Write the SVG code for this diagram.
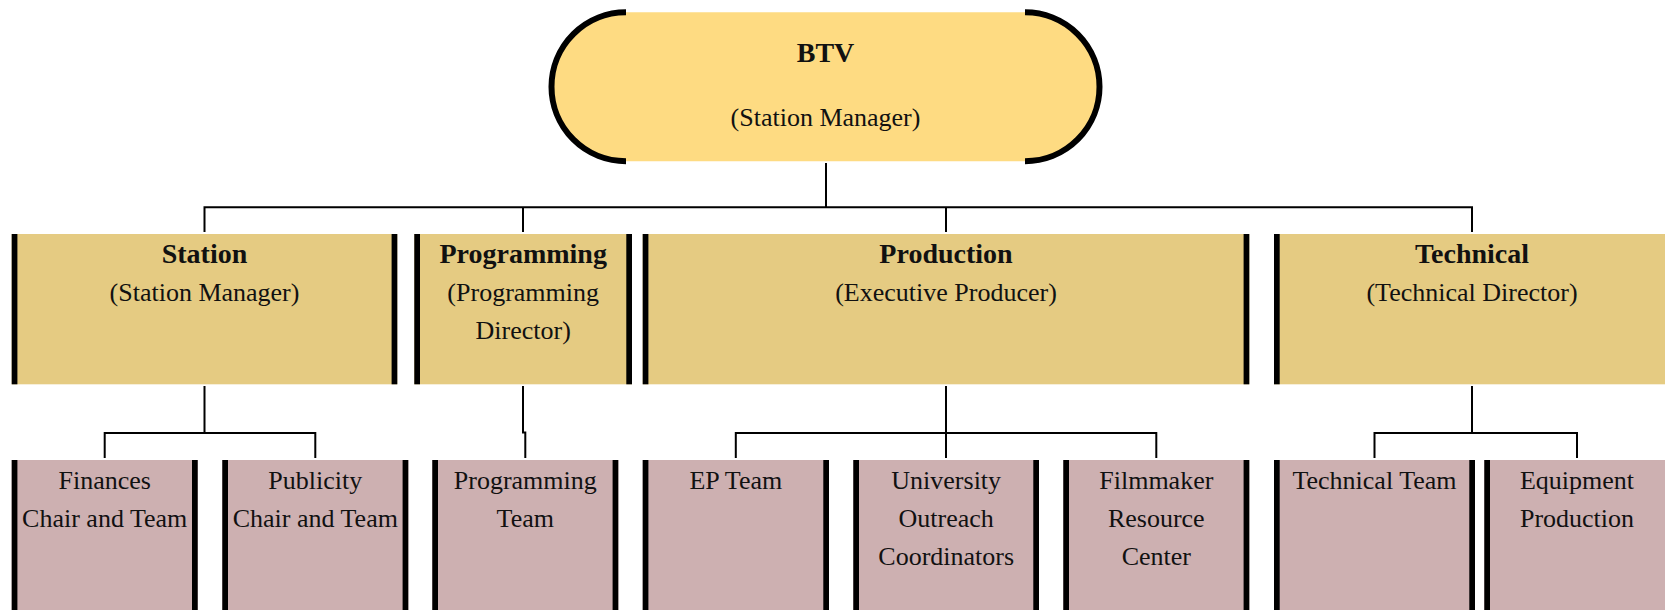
<svg xmlns="http://www.w3.org/2000/svg" width="1665" height="610" viewBox="0 0 1665 610">
<style>
.t{font-family:"Liberation Serif","Times New Roman",serif;font-size:26px;fill:#111;text-anchor:middle}
.b{font-weight:bold;font-size:28px}
.l2{fill:#E5CB82}
.l3{fill:#CDB0B1}
.bar{fill:#000}
.c{fill:none;stroke:#000;stroke-width:2}
</style>
<rect width="1665" height="610" fill="#fff"/>
<g id="connectors">
<path class="c" d="M826 163V207.3"/>
<path class="c" d="M204.5 232V207.3H1472V232"/>
<path class="c" d="M523 207.3V232M946 207.3V232"/>
<path class="c" d="M204.5 386V433M104.7 458V433H315.3V458"/>
<path class="c" d="M523 386V432.5H525.3V458"/>
<path class="c" d="M946 386V458M735.8 458V433H1156.3V458"/>
<path class="c" d="M1472 386V433M1374.5 458V433H1577V458"/>
</g>
<g id="btv">
<path d="M626 12.3H1025A74.5 74.5 0 0 1 1025 161.3H626A74.5 74.5 0 0 1 626 12.3Z" fill="#FEDB82"/>
<path d="M626 12.3A74.5 74.5 0 0 0 626 161.3" fill="none" stroke="#000" stroke-width="6"/>
<path d="M1025 12.3A74.5 74.5 0 0 1 1025 161.3" fill="none" stroke="#000" stroke-width="6"/>
<text class="t b" x="825.5" y="62">BTV</text>
<text class="t" x="825.5" y="126">(Station Manager)</text>
</g>
<g id="station">
<rect class="l2" x="11.7" y="234" width="385.6" height="150.3"/>
<rect class="bar" x="11.7" y="234" width="5.7" height="150.3"/>
<rect class="bar" x="391.6" y="234" width="5.7" height="150.3"/>
<text class="t b" x="204.5" y="262.5">Station</text>
<text class="t" x="204.5" y="301">(Station Manager)</text>
</g>
<g id="programming">
<rect class="l2" x="414.3" y="234" width="217.7" height="150.3"/>
<rect class="bar" x="414.3" y="234" width="5.7" height="150.3"/>
<rect class="bar" x="626.3" y="234" width="5.7" height="150.3"/>
<text class="t b" x="523.2" y="262.5">Programming</text>
<text class="t" x="523.2" y="301">(Programming</text>
<text class="t" x="523.2" y="339.3">Director)</text>
</g>
<g id="production">
<rect class="l2" x="642.7" y="234" width="606.6" height="150.3"/>
<rect class="bar" x="642.7" y="234" width="5.7" height="150.3"/>
<rect class="bar" x="1243.6" y="234" width="5.7" height="150.3"/>
<text class="t b" x="946" y="262.5">Production</text>
<text class="t" x="946" y="301">(Executive Producer)</text>
</g>
<g id="technical">
<rect class="l2" x="1274" y="234" width="396" height="150.3"/>
<rect class="bar" x="1274" y="234" width="5.7" height="150.3"/>
<text class="t b" x="1472" y="262.5">Technical</text>
<text class="t" x="1472" y="301">(Technical Director)</text>
</g>
<g id="finances">
<rect class="l3" x="11.7" y="460" width="186" height="150"/>
<rect class="bar" x="11.7" y="460" width="5.7" height="150"/>
<rect class="bar" x="192" y="460" width="5.7" height="150"/>
<text class="t" x="104.7" y="489.3">Finances</text>
<text class="t" x="104.7" y="526.7">Chair and Team</text>
</g>
<g id="publicity">
<rect class="l3" x="222.3" y="460" width="186" height="150"/>
<rect class="bar" x="222.3" y="460" width="5.7" height="150"/>
<rect class="bar" x="402.6" y="460" width="5.7" height="150"/>
<text class="t" x="315.3" y="489.3">Publicity</text>
<text class="t" x="315.3" y="526.7">Chair and Team</text>
</g>
<g id="programming-team">
<rect class="l3" x="432.3" y="460" width="186" height="150"/>
<rect class="bar" x="432.3" y="460" width="5.7" height="150"/>
<rect class="bar" x="612.6" y="460" width="5.7" height="150"/>
<text class="t" x="525.3" y="489.3">Programming</text>
<text class="t" x="525.3" y="526.7">Team</text>
</g>
<g id="ep-team">
<rect class="l3" x="642.7" y="460" width="186.3" height="150"/>
<rect class="bar" x="642.7" y="460" width="5.7" height="150"/>
<rect class="bar" x="823.3" y="460" width="5.7" height="150"/>
<text class="t" x="735.8" y="489.3">EP Team</text>
</g>
<g id="university">
<rect class="l3" x="853.3" y="460" width="185.7" height="150"/>
<rect class="bar" x="853.3" y="460" width="5.7" height="150"/>
<rect class="bar" x="1033.3" y="460" width="5.7" height="150"/>
<text class="t" x="946.2" y="489.3">University</text>
<text class="t" x="946.2" y="526.7">Outreach</text>
<text class="t" x="946.2" y="564.5">Coordinators</text>
</g>
<g id="filmmaker">
<rect class="l3" x="1063.3" y="460" width="186" height="150"/>
<rect class="bar" x="1063.3" y="460" width="5.7" height="150"/>
<rect class="bar" x="1243.6" y="460" width="5.7" height="150"/>
<text class="t" x="1156.3" y="489.3">Filmmaker</text>
<text class="t" x="1156.3" y="526.7">Resource</text>
<text class="t" x="1156.3" y="564.5">Center</text>
</g>
<g id="technical-team">
<rect class="l3" x="1274" y="460" width="201" height="150"/>
<rect class="bar" x="1274" y="460" width="5.7" height="150"/>
<rect class="bar" x="1469.3" y="460" width="5.7" height="150"/>
<text class="t" x="1374.5" y="489.3">Technical Team</text>
</g>
<g id="equipment">
<rect class="l3" x="1484.3" y="460" width="186" height="150"/>
<rect class="bar" x="1484.3" y="460" width="5.7" height="150"/>
<text class="t" x="1577" y="489.3">Equipment</text>
<text class="t" x="1577" y="526.7">Production</text>
</g>
</svg>
